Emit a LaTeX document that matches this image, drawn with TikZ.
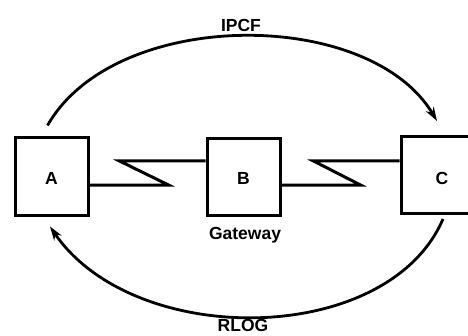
\documentclass[tikz,border=0pt]{standalone}
\usepackage{fontspec}
\setmainfont{Liberation Sans}
\usetikzlibrary{arrows.meta}
\begin{document}
\begin{tikzpicture}[x=1pt,y=1pt,
  every node/.style={font=\fontsize{17.5}{20}\selectfont\bfseries},
  tag/.style={anchor=base, inner sep=0pt},
  hostbox/.style={draw, line width=3pt, minimum width=73pt, minimum height=77pt, inner sep=0pt},
  link/.style={line width=3pt, line join=miter},
  flow/.style={line width=2.8pt, -{Stealth[length=14pt,width=9pt]}}]
\useasboundingbox (0,0) rectangle (468,335);
% the three hosts
\node[hostbox] (A) at (51.5,158.5) {};
\node[hostbox] (B) at (243.5,158) {};
\node[hostbox, minimum width=78pt] (C) at (440,160) {};
\node[tag] (la) at (51.5,151) {A};
\node[tag] (lb) at (243.5,151) {B};
\node[tag] (lc) at (442,151) {C};
\node[tag] (gw) at (245,96) {Gateway};
% serial links drawn as lightning zigzags
\draw[link] ([yshift=-8.5pt]A.east) -- ++(79,0) -- ++(-49,24) coordinate (k1) -- (k1 -| B.west);
\draw[link] ([yshift=-8pt]B.east) -- ++(79,0) -- ++(-47,24) coordinate (k2) -- (k2 -| C.west);
% end-to-end flows
\draw[flow] ([shift={(-4pt,11pt)}]A.north) .. controls +(67,118) and +(-68,114) .. ([shift={(-3pt,14pt)}]C.north);
\draw[flow] ([shift={(3pt,-4pt)}]C.south) .. controls +(-55,-128) and +(84,-123) .. ([shift={(-1.5pt,-10pt)}]A.south);
\node[tag] (ipcf) at (241,303) {IPCF};
\node[tag] (rlog) at (243,4) {RLOG};
\end{tikzpicture}
\end{document}
